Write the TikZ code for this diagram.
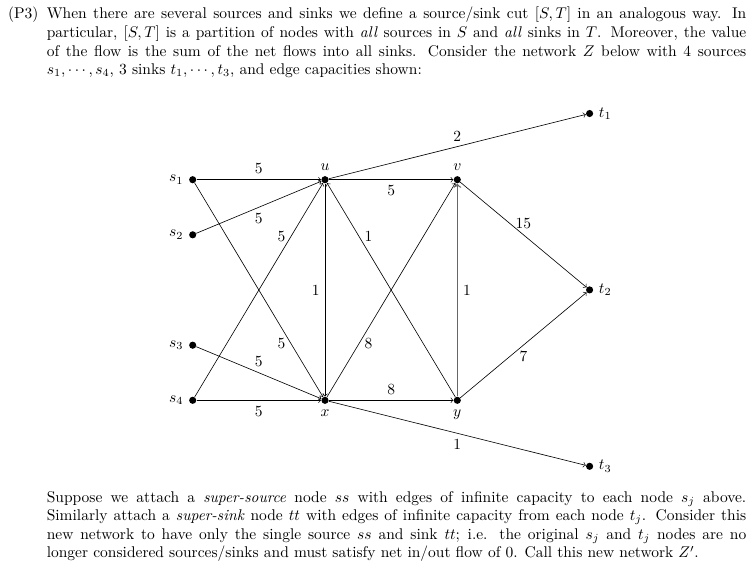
\documentclass[tikz,border=0pt]{standalone}
\usepackage{tikz}
\begin{document}
\begin{tikzpicture}[x=0.6452pt,y=-0.6452pt,
  dot/.style={circle,fill=black,inner sep=0pt,minimum size=4.6pt},
  edge/.style={->,line width=0.4pt},
  grayedge/.style={->,draw=black!60,line width=0.85pt},
  para/.style={anchor=north west,inner sep=0pt,text width=451.3pt,align=justify,font=\normalsize}]
\useasboundingbox (0,0) rectangle (754,575);
% text
\node[para] (top) at (46.5,5.5) {\strut When there are several sources and sinks we define a source/sink cut $[S,T]$ in an analogous way. In\linebreak particular, $[S,T]$ is a partition of nodes with \emph{all} sources in $S$ and \emph{all} sinks in $T$. Moreover, the value\linebreak of the flow is the sum of the net flows into all sinks. Consider the network $Z$ below with 4 sources\linebreak $s_1,\cdots,s_4$, 3 sinks $t_1,\cdots,t_3$, and edge capacities shown:};
\node[anchor=base east,inner sep=0pt] (p3) at ([xshift=-5pt]top.north west |- 0,18.8) {(P3)};
\node[para] (bottom) at (46.5,488.7) {\strut Suppose we attach a \emph{super-source} node $ss$ with edges of infinite capacity to each node $s_j$ above.\linebreak Similarly attach a \emph{super-sink} node $tt$ with edges of infinite capacity from each node $t_j$. Consider this\linebreak new network to have only the single source $ss$ and sink $tt$; i.e. the original $s_j$ and $t_j$ nodes are no\linebreak longer considered sources/sinks and must satisfy net in/out flow of 0. Call this new network $Z'$.};
% nodes
\node[dot,label=left:{$s_1$}] (s1) at (192.7,179.7) {};
\node[dot,label=left:{$s_2$}] (s2) at (192.7,234.8) {};
\node[dot,label=left:{$s_3$}] (s3) at (192.7,345.2) {};
\node[dot,label=left:{$s_4$}] (s4) at (192.7,400.3) {};
\node[dot,label=above:{$u$}] (u) at (325,179.7) {};
\node[dot,label=above:{$v$}] (v) at (457.3,179.7) {};
\node[dot,label=below:{$x$}] (x) at (325,400.3) {};
\node[dot,label=below:{$y$}] (y) at (457.3,400.3) {};
\node[dot,label=right:{$t_1$}] (t1) at (589.6,113.5) {};
\node[dot,label=right:{$t_2$}] (t2) at (589.6,289.9) {};
\node[dot,label=right:{$t_3$}] (t3) at (589.6,466.3) {};
% edges
\draw[edge] (s1) -- node[above] {5} (u);
\draw[edge] (s2) -- node[below] {5} (u);
\draw[edge] (s4) -- node[near end,left] {5} (u);
\draw[edge] (s1) -- node[near end,left] {5} (x);
\draw[edge] (s3) -- node[above] {5} (x);
\draw[edge] (s4) -- node[below] {5} (x);
\draw[edge] (u) -- node[left] {1} (x);
\draw[edge] (y) -- node[near end,right] {1} (u);
\draw[edge] (u) -- node[below] {5} (v);
\draw[edge] (u) -- node[above] {2} (t1);
\draw[edge] (x) -- node[near start,right] {8} (v);
\draw[grayedge] (y) -- node[right,text=black] {1} (v);
\draw[edge] (v) -- node[above] {15} (t2);
\draw[edge] (y) -- node[below] {7} (t2);
\draw[edge] (x) -- node[above] {8} (y);
\draw[edge] (x) -- node[below] {1} (t3);
\end{tikzpicture}
\end{document}
